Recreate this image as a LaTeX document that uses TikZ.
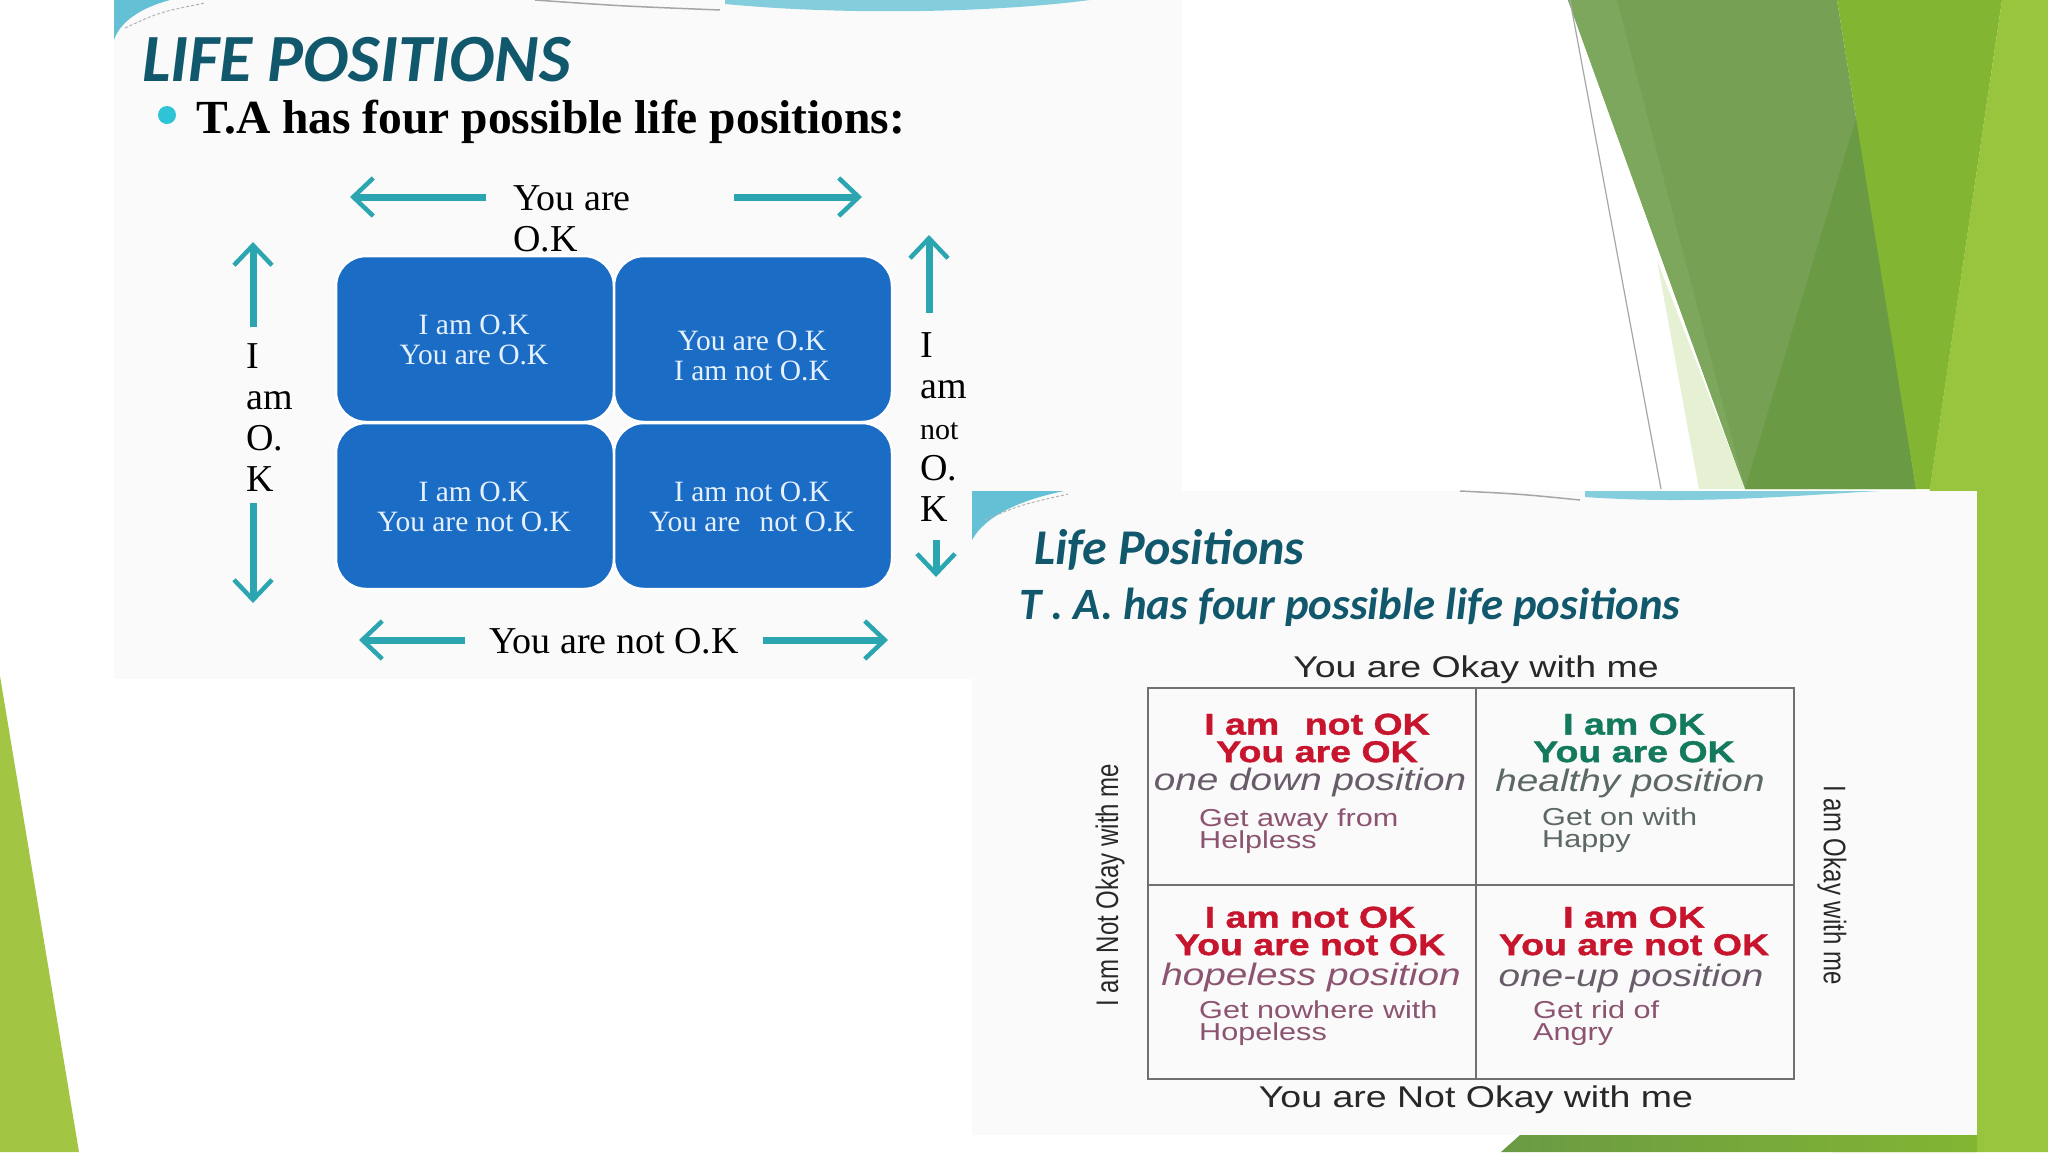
\documentclass[tikz,border=0pt]{standalone}
\usepackage{fontspec}
\setmainfont{Liberation Serif}
\newfontfamily\calfont{Carlito}
\newfontfamily\widesans[FakeStretch=1.25,BoldFeatures={FakeBold=1.2}]{Liberation Sans}
\newfontfamily\plainsans{Liberation Sans}
\usetikzlibrary{arrows.meta,positioning}
\definecolor{lpblue}{RGB}{27,108,196}
\definecolor{lpteal}{RGB}{43,165,176}
\definecolor{lptitle}{RGB}{17,88,108}
\definecolor{lpdot}{RGB}{46,196,214}
\definecolor{lpred}{RGB}{200,21,46}
\definecolor{lpgreen}{RGB}{19,122,94}
\definecolor{lpmauve}{RGB}{140,84,112}
\definecolor{lpgrey}{RGB}{105,92,106}
\definecolor{lpsage}{RGB}{92,104,100}
\definecolor{lpgrid}{RGB}{112,112,112}
\definecolor{lpbox}{RGB}{230,241,255}
\definecolor{lpink}{RGB}{40,40,40}
\definecolor{gmid}{RGB}{118,160,84}
\definecolor{gmidl}{RGB}{124,167,92}
\definecolor{gdark}{RGB}{106,154,68}
\definecolor{gbright}{RGB}{130,181,50}
\definecolor{glight}{RGB}{153,196,62}
\definecolor{gpale}{RGB}{230,240,210}
\definecolor{gleft}{RGB}{162,198,68}
\definecolor{swteal}{RGB}{100,192,212}
\newcommand{\tightlines}{\lineskiplimit=-20pt\relax}
\tikzset{
  quad/.style={draw=white,line width=2.5pt,fill=lpblue,rounded corners=30pt,minimum width=278pt,minimum height=166pt,inner sep=0pt},
  quadtxt/.style={text=lpbox,align=center,font=\fontsize{29.5}{30}\selectfont,inner sep=0pt},
  axarr/.style={draw=lpteal,line width=7pt,-{Straight Barb[length=20pt,width=38pt,line width=4.5pt]}},
  axlbl/.style={font=\fontsize{38}{41}\selectfont,align=left,inner sep=0pt},
  cell/.style={draw=lpgrid,line width=2pt,inner sep=0pt},
  verdict/.style={font=\widesans\bfseries\fontsize{30}{27.5}\selectfont\tightlines,align=center,inner sep=0pt},
  tag/.style={font=\widesans\itshape\fontsize{31}{34}\selectfont,inner sep=0pt},
  hint/.style={font=\widesans\fontsize{24.5}{21.5}\selectfont\tightlines,align=left,anchor=west,inner sep=0pt},
  axtxt/.style={font=\widesans\fontsize{30}{32}\selectfont,text=lpink,inner sep=0pt},
  sidetxt/.style={font=\plainsans\fontsize{24}{26}\selectfont,text=lpink,inner sep=0pt}
}
\begin{document}
\begin{tikzpicture}[x=1pt,y=-1pt]
  \useasboundingbox (0,0) rectangle (2048,1152);
  \fill[white] (0,0) rectangle (2048,1152);
  % theme facets
  \fill[gleft] (0,676) -- (79,1152) -- (0,1152) -- cycle;
  \fill[gmid] (1568,0) -- (1837,0) -- (1916,489) -- (1745,489) -- cycle;
  \fill[gmidl] (1568,0) -- (1617,0) -- (1745,489) -- cycle;
  \fill[gdark] (1857,115) -- (1916,489) -- (1745,489) -- cycle;
  \fill[gbright] (1837,0) -- (2002,0) -- (1930,489) -- (1916,489) -- cycle;
  \fill[glight] (2002,0) -- (2048,0) -- (2048,1152) -- (1832,1152) -- cycle;
  \fill[gpale] (1657,260) -- (1745,489) -- (1699,489) -- cycle;
  \draw[gray!70,line width=1.2pt] (1570,0) -- (1661,489);
  \shade[left color=gdark,right color=gbright] (1520,1135) -- (1977,1135) -- (1977,1152) -- (1501,1152) -- cycle;

  % first picture
  \fill[black!2] (114,0) rectangle (1182,679);
  \fill[swteal] (114,0) -- (170,0) .. controls (140,8) and (120,22) .. (114,40) -- cycle;
  \draw[gray!60,line width=1pt,dash pattern=on 3pt off 2pt] (125,28) .. controls (160,12) .. (205,3);
  \draw[gray!70,line width=1.5pt] (535,0) .. controls (620,6) .. (720,10);
  \fill[swteal!80] (725,4) .. controls (850,16) and (1000,12) .. (1090,0) -- (725,0) -- cycle;

  \node[anchor=base west,inner sep=0pt,font=\calfont\bfseries\itshape\fontsize{67.5}{70}\selectfont,text=lptitle] (ttl) at (142,81) {LIFE POSITIONS};
  \fill[lpdot] (167,115) circle[radius=9pt];
  \node[anchor=base west,inner sep=0pt,font=\bfseries\fontsize{47.5}{50}\selectfont] (sub) at (196,133) {T.A has four possible life positions:};

  \node[quad] (bTL) at (475,339) {};
  \node[quad] (bTR) at (753,339) {};
  \node[quad] (bBL) at (475,506) {};
  \node[quad] (bBR) at (753,506) {};
  \node[quadtxt] (tTL) at (474,340) {I am O.K\\You are O.K};
  \node[quadtxt] (tTR) at (752,356) {You are O.K\\I am not O.K};
  \node[quadtxt] (tBL) at (474,507) {I am O.K\\You are not O.K};
  \node[quadtxt] (tBR) at (752,507) {I am not O.K\\You are\hspace{0.4em} not O.K};

  \node[axlbl,anchor=west] (yok) at (513,219) {You are\\O.K};
  \node[axlbl,anchor=west] (iok) at (246,418) {I\\am\\O.\\K};
  \node[axlbl,anchor=west] (inok) at (920,427) {I\\am\\{\fontsize{30}{41}\selectfont not}\\O.\\K};
  \node[axlbl] (ynok) at (614,641) {You are not O.K};

  \coordinate (a1) at (486,197); \coordinate (a1t) at (350,197);
  \coordinate (a2) at (734,197); \coordinate (a2t) at (862,197);
  \coordinate (a3) at (253,327); \coordinate (a3t) at (253,242);
  \coordinate (a4) at (253,503); \coordinate (a4t) at (253,603);
  \coordinate (a5) at (929,313); \coordinate (a5t) at (929,235);
  \coordinate (a6) at (936,540); \coordinate (a6t) at (936,577);
  \coordinate (a7) at (465,640); \coordinate (a7t) at (359,640);
  \coordinate (a8) at (763,640); \coordinate (a8t) at (888,640);
  \foreach \s in {1,...,8} {\draw[axarr] (a\s) -- (a\s t);}

  % second picture
  \fill[black!2] (972,491) rectangle (1977,1135);
  \fill[swteal] (972,491) -- (1064,491) .. controls (1020,500) and (985,516) .. (972,540) -- cycle;
  \draw[gray!60,line width=1pt,dash pattern=on 3pt off 2pt] (985,520) .. controls (1020,505) .. (1068,494);
  \draw[gray!70,line width=1.5pt] (1460,491) .. controls (1520,494) .. (1580,500);
  \fill[swteal!80] (1585,497) .. controls (1700,505) and (1800,495) .. (1880,491) -- (1585,491) -- cycle;

  \node[anchor=base west,inner sep=0pt,font=\calfont\bfseries\itshape\fontsize{50}{52}\selectfont,text=lptitle] (lp) at (1034,564) {Life Positions};
  \node[anchor=base west,inner sep=0pt,font=\calfont\bfseries\itshape\fontsize{44.8}{46}\selectfont,text=lptitle] (ta) at (1019,619) {T . A. has four possible life positions};

  \node[cell,minimum width=328pt,minimum height=197pt] (cTL) at (1312,786.5) {};
  \node[cell,minimum width=318pt,minimum height=197pt] (cTR) at (1635,786.5) {};
  \node[cell,minimum width=328pt,minimum height=194pt] (cBL) at (1312,982) {};
  \node[cell,minimum width=318pt,minimum height=194pt] (cBR) at (1635,982) {};

  \node[axtxt] (yokm) at (1476,670) {You are Okay with me};
  \node[axtxt] (ynokm) at (1476,1100) {You are Not Okay with me};
  \node[sidetxt,rotate=90] (inokm) at (1110,885) {\scalebox{1}[1.3]{I am Not Okay with me}};
  \node[sidetxt,rotate=-90] (iokm) at (1832,885) {\scalebox{1}[1.3]{I am Okay with me}};

  \node[verdict,text=lpred] (v1) at (1317,738) {I am\hspace{0.5em} not OK\\You are OK};
  \node[tag,text=lpgrey] (g1) at (1310,782) {one down position};
  \node[hint,text=lpmauve] (h1) at (1199,831) {Get away from\\Helpless};

  \node[verdict,text=lpgreen] (v2) at (1634,738) {I am OK\\You are OK};
  \node[tag,text=lpsage] (g2) at (1630,783) {healthy position};
  \node[hint,text=lpsage] (h2) at (1542,830) {Get on with\\Happy};

  \node[verdict,text=lpred] (v3) at (1310,931) {I am not OK\\You are not OK};
  \node[tag,text=lpmauve] (g3) at (1311,977) {hopeless position};
  \node[hint,text=lpmauve] (h3) at (1199,1023) {Get nowhere with\\Hopeless};

  \node[verdict,text=lpred] (v4) at (1634,931) {I am OK\\You are not OK};
  \node[tag,text=lpgrey] (g4) at (1631,978) {one-up position};
  \node[hint,text=lpmauve] (h4) at (1533,1023) {Get rid of\\Angry};
\end{tikzpicture}
\end{document}
